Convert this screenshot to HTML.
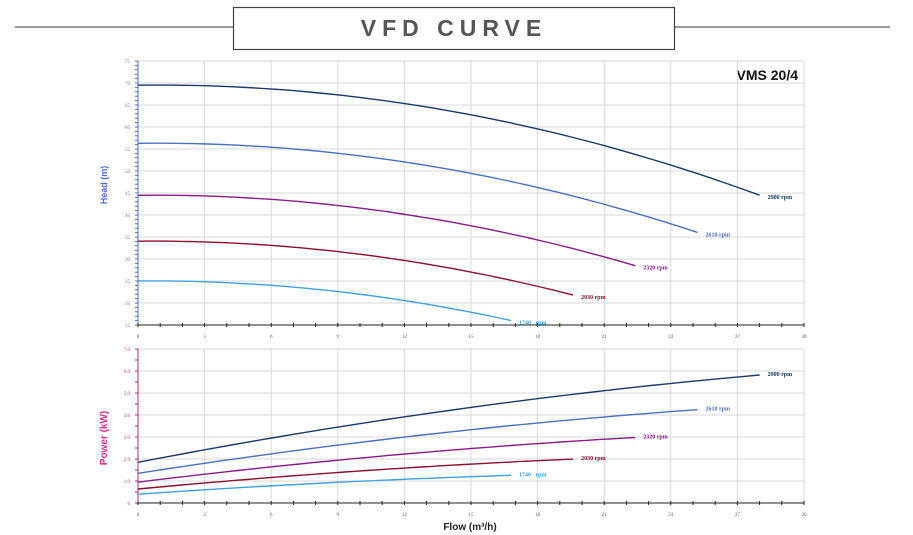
<!DOCTYPE html><html><head><style>body{margin:0;background:#fff}svg{display:block}</style></head><body>
<svg id="s" width="913" height="535" xmlns="http://www.w3.org/2000/svg" font-family="Liberation Serif, serif">
<line x1="15" y1="27" x2="233" y2="27" stroke="#333" stroke-width="1"/>
<line x1="675" y1="27" x2="890" y2="27" stroke="#333" stroke-width="1"/>
<rect x="233.5" y="7.5" width="441" height="42" fill="#fff" stroke="#444" stroke-width="1.2"/>
<text x="454" y="36" text-anchor="middle" font-family="Liberation Sans, sans-serif" font-weight="bold" font-size="23" letter-spacing="6" fill="#555">VFD CURVE</text>
<text x="798" y="80" text-anchor="end" font-family="Liberation Sans, sans-serif" font-weight="bold" font-size="14" fill="#111">VMS 20/4</text>
<text transform="translate(107,185) rotate(-90)" text-anchor="middle" font-family="Liberation Sans, sans-serif" font-weight="bold" font-size="9" fill="#4a6fd8">Head (m)</text>
<text transform="translate(107,438) rotate(-90)" text-anchor="middle" font-family="Liberation Sans, sans-serif" font-weight="bold" font-size="10" fill="#d0308a">Power (kW)</text>
<text x="470" y="530" text-anchor="middle" font-family="Liberation Sans, sans-serif" font-weight="bold" font-size="10" fill="#222">Flow (m³/h)</text>
<g id="g"></g>
</svg>
<script>
var g=document.getElementById('g'),h='';
var X0=138,SX=22.2;
function X(q){return X0+q*SX}
function HY(v){return 325-(v-15)*4.4}
function PY(v){return 503-v*22}
// grids
for(var i=0;i<=10;i++){var x=X(i*3);
h+='<line x1="'+x+'" y1="61" x2="'+x+'" y2="325" stroke="#d8d8d8"/>';
h+='<line x1="'+x+'" y1="349" x2="'+x+'" y2="503" stroke="#d8d8d8"/>';
h+='<text x="'+x+'" y="338" font-size="5" text-anchor="middle" fill="#556">'+(i*3)+'</text>';
h+='<text x="'+x+'" y="516" font-size="5" text-anchor="middle" fill="#556">'+(i*3)+'</text>';}
for(var v=15;v<=75;v+=5){var y=HY(v);h+='<line x1="138" y1="'+y+'" x2="804" y2="'+y+'" stroke="#d8d8d8"/>';
h+='<text x="130" y="'+(y+2)+'" font-size="5" text-anchor="end" fill="#6a80d8">'+v+'</text>';}
for(var v=0;v<=7;v++){var y=PY(v);h+='<line x1="138" y1="'+y+'" x2="804" y2="'+y+'" stroke="#d8d8d8"/>';
h+='<text x="130" y="'+(y+2)+'" font-size="5" text-anchor="end" fill="#d0308a">'+(v==0?'0':v.toFixed(1))+'</text>';}
// axes
h+='<line x1="138" y1="61" x2="138" y2="325" stroke="#4a6fd8"/><line x1="138" y1="325" x2="804" y2="325" stroke="#222"/>';
h+='<line x1="138" y1="349" x2="138" y2="503" stroke="#c02080"/><line x1="138" y1="503" x2="804" y2="503" stroke="#222"/>';
for(var i=0;i<=60;i++){var y=325-i*4.4;h+='<line x1="135" y1="'+y+'" x2="138" y2="'+y+'" stroke="#4a6fd8"/>';}
for(var i=0;i<=14;i++){var y=503-i*11;h+='<line x1="135" y1="'+y+'" x2="138" y2="'+y+'" stroke="#c02080"/>';}
for(var i=0;i<=30;i++){var x=X(i);h+='<line x1="'+x+'" y1="323" x2="'+x+'" y2="327" stroke="#222"/><line x1="'+x+'" y1="501" x2="'+x+'" y2="505" stroke="#222"/>';}
var C=[[2900,'#1a3a6a'],[2610,'#4a70c0'],[2320,'#8a1a8a'],[2030,'#8a1030'],[1740,'#40a0e0']];
C.forEach(function(c){var r=c[0]/2900,col=c[1],qm=28*r,ph='',pp='';
for(var k=0;k<=40;k++){var q=qm*k/40,u=q/r;
var H=r*r*(69.5+0.0628*u-0.03413*u*u);
var P=r*r*r*(1.85+0.1948*u-0.001895*u*u);
ph+=(k?'L':'M')+X(q).toFixed(1)+' '+HY(H).toFixed(1);
pp+=(k?'L':'M')+X(q).toFixed(1)+' '+PY(P).toFixed(1);}
h+='<path d="'+ph+'" fill="none" stroke="'+col+'" stroke-width="1.4"/>';
h+='<path d="'+pp+'" fill="none" stroke="'+col+'" stroke-width="1.4"/>';
var He=r*r*(69.5+0.0628*28-0.03413*784),Pe=r*r*r*(1.85+0.1948*28-0.001895*784);
var lab=c[0]==1740?'1740&#160;&#160;&#160;rpm':c[0]+' rpm';
h+='<text x="'+(X(qm)+8)+'" y="'+(HY(He)+4)+'" font-size="6" font-weight="bold" fill="'+col+'">'+lab+'</text>';
h+='<text x="'+(X(qm)+8)+'" y="'+(PY(Pe)+1)+'" font-size="6" font-weight="bold" fill="'+col+'">'+lab+'</text>';});
g.innerHTML=h;
</script>
</body></html>
